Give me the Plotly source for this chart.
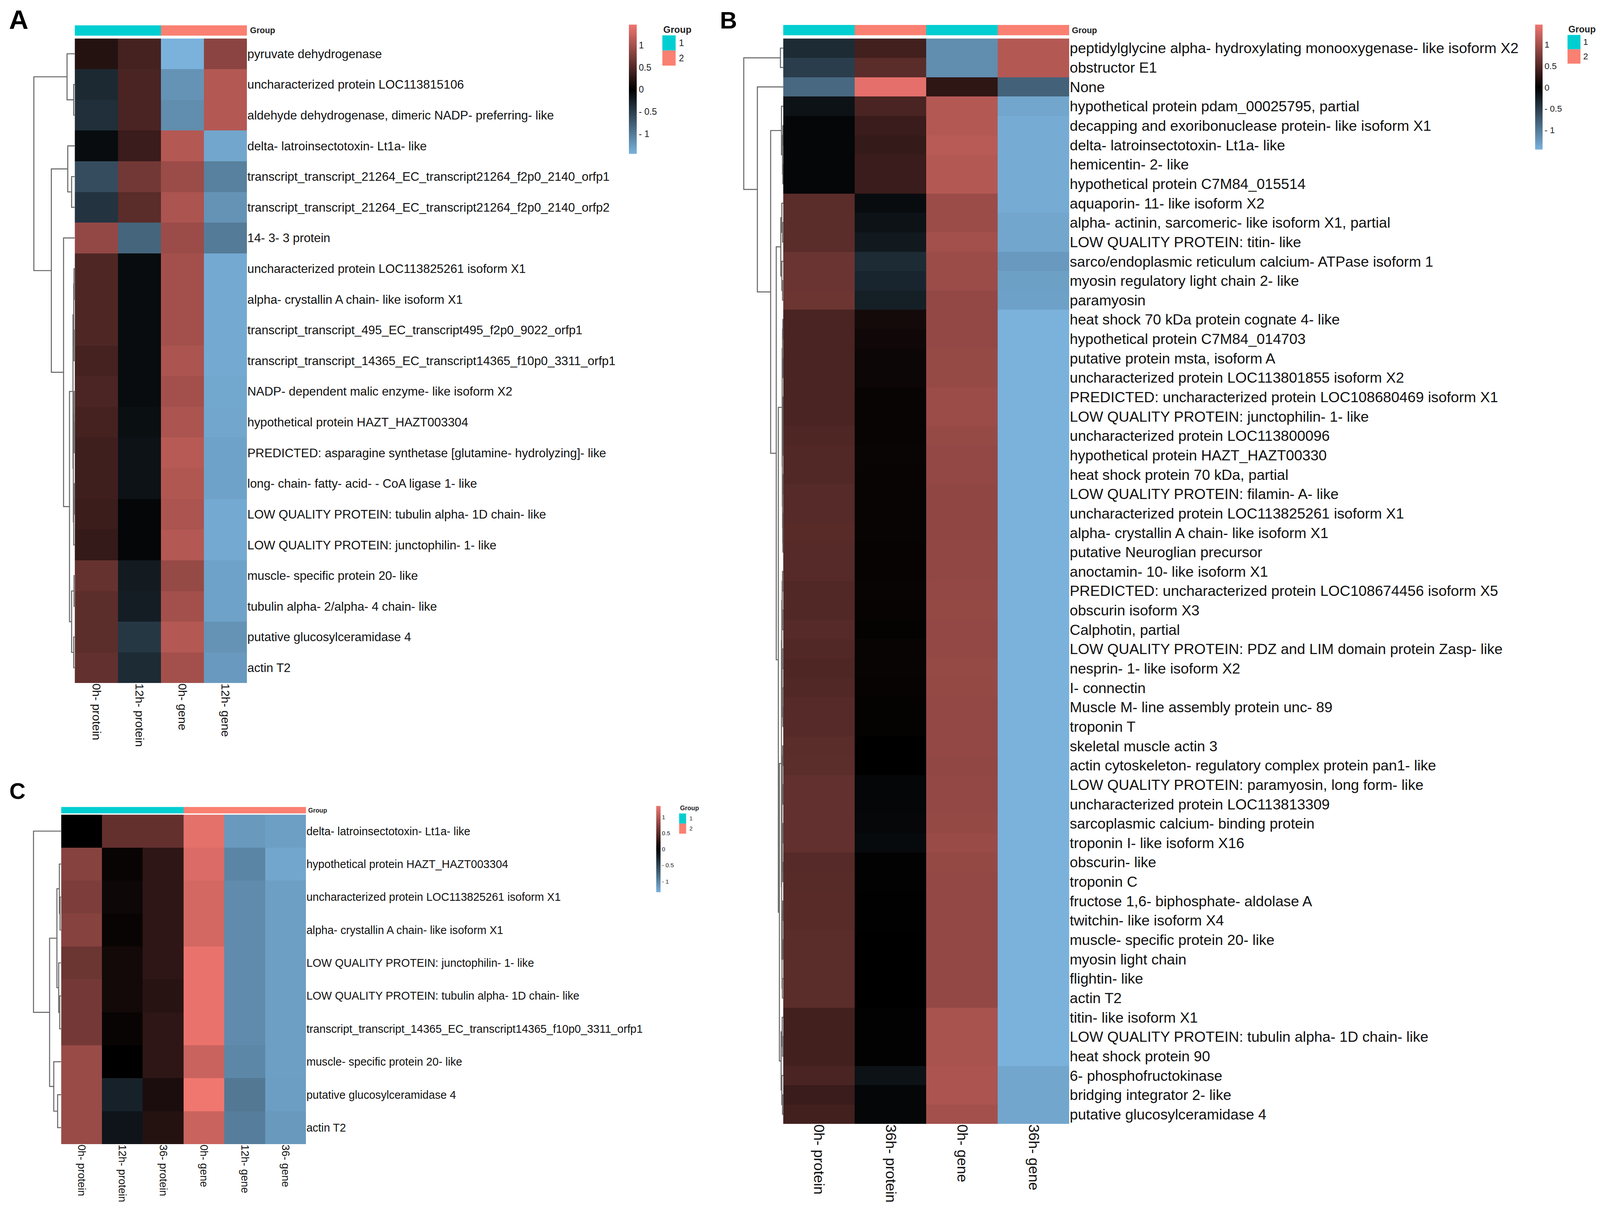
import plotly.graph_objects as go

# reference grid (pixel positions below are read on this grid)
REF_W, REF_H = 4562, 3127
# the visible capture area is narrower than the reference, so the figure is fitted to it
FIG_W, FIG_H = 4080, 3108
SX, SY = FIG_W / REF_W, FIG_H / REF_H

FONT = "Liberation Sans, Arial, Helvetica, sans-serif"
LOW, MID, HIGH = "rgb(122,178,220)", "rgb(0,0,0)", "rgb(240,118,112)"
GROUP_COLORS = ["#00CED1", "#FA8072"]
GROUP_NAMES = ["1", "2"]
LINE_COLOR = "#6a6a6a"
CB_TICKVALS = [-1, -0.5, 0, 0.5, 1]
CB_TICKTEXT = ["- 1", "- 0.5", "0", "0.5", "1"]

# ---------------- Panel A ----------------
A_rows = [
    "pyruvate dehydrogenase",
    "uncharacterized protein LOC113815106",
    "aldehyde dehydrogenase, dimeric NADP- preferring- like",
    "delta- latroinsectotoxin- Lt1a- like",
    "transcript_transcript_21264_EC_transcript21264_f2p0_2140_orfp1",
    "transcript_transcript_21264_EC_transcript21264_f2p0_2140_orfp2",
    "14- 3- 3 protein",
    "uncharacterized protein LOC113825261 isoform X1",
    "alpha- crystallin A chain- like isoform X1",
    "transcript_transcript_495_EC_transcript495_f2p0_9022_orfp1",
    "transcript_transcript_14365_EC_transcript14365_f10p0_3311_orfp1",
    "NADP- dependent malic enzyme- like isoform X2",
    "hypothetical protein HAZT_HAZT003304",
    "PREDICTED: asparagine synthetase [glutamine- hydrolyzing]- like",
    "long- chain- fatty- acid- - CoA ligase 1- like",
    "LOW QUALITY PROTEIN: tubulin alpha- 1D chain- like",
    "LOW QUALITY PROTEIN: junctophilin- 1- like",
    "muscle- specific protein 20- like",
    "tubulin alpha- 2/alpha- 4 chain- like",
    "putative glucosylceramidase 4",
    "actin T2",
]
A_cols = ["0h- protein", "12h- protein", "0h- gene", "12h- gene"]
A_groups = [1, 1, 2, 2]
A_values = [
    [0.22, 0.42, -1.45, 0.85],
    [-0.33, 0.45, -1.20, 1.10],
    [-0.38, 0.45, -1.15, 1.10],
    [-0.10, 0.35, 1.10, -1.35],
    [-0.62, 0.70, 0.95, -1.05],
    [-0.42, 0.55, 1.05, -1.20],
    [0.90, -0.82, 0.95, -1.00],
    [0.48, -0.10, 1.00, -1.38],
    [0.48, -0.10, 1.00, -1.38],
    [0.48, -0.10, 1.00, -1.38],
    [0.42, -0.10, 1.05, -1.38],
    [0.46, -0.10, 1.00, -1.36],
    [0.42, -0.12, 1.05, -1.35],
    [0.38, -0.15, 1.12, -1.32],
    [0.38, -0.15, 1.08, -1.32],
    [0.36, -0.05, 1.05, -1.38],
    [0.32, -0.05, 1.10, -1.38],
    [0.62, -0.22, 0.92, -1.32],
    [0.56, -0.24, 1.00, -1.32],
    [0.56, -0.45, 1.10, -1.20],
    [0.60, -0.35, 1.00, -1.25],
]
# dendrogram: [merge height, left, right]; leaves are row indices
A_tree = [117,
          [22, 0, [3, 1, 2]],
          [67,
           [20, 3, [9, 4, 5]],
           [32, 6,
            [15,
             [5, [3, [2, 7, 8], [2, 9, 10]],
                 [4, [2, 11, [1, 12, 13]], [3, [1, 14, 15], 16]]],
             [9, [2, 17, 18], [3, 19, 20]]]]]]

# ---------------- Panel B ----------------
B_rows = [
    "peptidylglycine alpha- hydroxylating monooxygenase- like isoform X2",
    "obstructor E1",
    "None",
    "hypothetical protein pdam_00025795, partial",
    "decapping and exoribonuclease protein- like isoform X1",
    "delta- latroinsectotoxin- Lt1a- like",
    "hemicentin- 2- like",
    "hypothetical protein C7M84_015514",
    "aquaporin- 11- like isoform X2",
    "alpha- actinin, sarcomeric- like isoform X1, partial",
    "LOW QUALITY PROTEIN: titin- like",
    "sarco/endoplasmic reticulum calcium- ATPase isoform 1",
    "myosin regulatory light chain 2- like",
    "paramyosin",
    "heat shock 70 kDa protein cognate 4- like",
    "hypothetical protein C7M84_014703",
    "putative protein msta, isoform A",
    "uncharacterized protein LOC113801855 isoform X2",
    "PREDICTED: uncharacterized protein LOC108680469 isoform X1",
    "LOW QUALITY PROTEIN: junctophilin- 1- like",
    "uncharacterized protein LOC113800096",
    "hypothetical protein HAZT_HAZT00330",
    "heat shock protein 70 kDa, partial",
    "LOW QUALITY PROTEIN: filamin- A- like",
    "uncharacterized protein LOC113825261 isoform X1",
    "alpha- crystallin A chain- like isoform X1",
    "putative Neuroglian precursor",
    "anoctamin- 10- like isoform X1",
    "PREDICTED: uncharacterized protein LOC108674456 isoform X5",
    "obscurin isoform X3",
    "Calphotin, partial",
    "LOW QUALITY PROTEIN: PDZ and LIM domain protein Zasp- like",
    "nesprin- 1- like isoform X2",
    "I- connectin",
    "Muscle M- line assembly protein unc- 89",
    "troponin T",
    "skeletal muscle actin 3",
    "actin cytoskeleton- regulatory complex protein pan1- like",
    "LOW QUALITY PROTEIN: paramyosin, long form- like",
    "uncharacterized protein LOC113813309",
    "sarcoplasmic calcium- binding protein",
    "troponin I- like isoform X16",
    "obscurin- like",
    "troponin C",
    "fructose 1,6- biphosphate- aldolase A",
    "twitchin- like isoform X4",
    "muscle- specific protein 20- like",
    "myosin light chain",
    "flightin- like",
    "actin T2",
    "titin- like isoform X1",
    "LOW QUALITY PROTEIN: tubulin alpha- 1D chain- like",
    "heat shock protein 90",
    "6- phosphofructokinase",
    "bridging integrator 2- like",
    "putative glucosylceramidase 4",
]
B_cols = ["0h- protein", "36h- protein", "0h- gene", "36h- gene"]
B_groups = [1, 2, 1, 2]
B_values = [
    [-0.35, 0.40, -1.15, 1.10],
    [-0.50, 0.55, -1.15, 1.10],
    [-0.85, 1.40, 0.28, -0.80],
    [-0.15, 0.45, 1.10, -1.35],
    [-0.05, 0.35, 1.10, -1.40],
    [-0.05, 0.32, 1.13, -1.40],
    [-0.05, 0.35, 1.10, -1.40],
    [-0.05, 0.35, 1.10, -1.40],
    [0.55, -0.10, 0.95, -1.40],
    [0.55, -0.15, 0.95, -1.35],
    [0.55, -0.20, 1.00, -1.35],
    [0.65, -0.35, 0.95, -1.25],
    [0.65, -0.30, 0.95, -1.30],
    [0.66, -0.25, 0.90, -1.31],
    [0.45, 0.12, 0.90, -1.47],
    [0.45, 0.10, 0.90, -1.45],
    [0.45, 0.08, 0.92, -1.45],
    [0.45, 0.08, 0.92, -1.45],
    [0.45, 0.05, 0.95, -1.45],
    [0.45, 0.05, 0.95, -1.45],
    [0.48, 0.05, 0.92, -1.45],
    [0.50, 0.06, 0.90, -1.46],
    [0.50, 0.05, 0.90, -1.45],
    [0.52, 0.05, 0.88, -1.45],
    [0.52, 0.05, 0.88, -1.45],
    [0.54, 0.05, 0.88, -1.47],
    [0.52, 0.04, 0.89, -1.45],
    [0.52, 0.04, 0.89, -1.45],
    [0.50, 0.05, 0.90, -1.45],
    [0.50, 0.04, 0.91, -1.45],
    [0.52, 0.03, 0.90, -1.45],
    [0.50, 0.05, 0.90, -1.45],
    [0.48, 0.05, 0.92, -1.45],
    [0.50, 0.04, 0.91, -1.45],
    [0.52, 0.03, 0.90, -1.45],
    [0.52, 0.03, 0.90, -1.45],
    [0.55, 0.00, 0.90, -1.45],
    [0.56, 0.00, 0.89, -1.45],
    [0.60, -0.05, 0.90, -1.45],
    [0.60, -0.05, 0.90, -1.45],
    [0.60, -0.06, 0.91, -1.45],
    [0.60, -0.08, 0.93, -1.45],
    [0.52, 0.02, 0.91, -1.45],
    [0.53, 0.02, 0.90, -1.45],
    [0.54, 0.01, 0.90, -1.45],
    [0.54, 0.01, 0.90, -1.45],
    [0.55, 0.00, 0.90, -1.45],
    [0.55, 0.00, 0.90, -1.45],
    [0.55, 0.00, 0.90, -1.45],
    [0.55, 0.00, 0.90, -1.45],
    [0.40, 0.02, 1.03, -1.45],
    [0.40, 0.02, 1.03, -1.45],
    [0.40, 0.02, 1.03, -1.45],
    [0.45, -0.15, 1.05, -1.35],
    [0.35, -0.05, 1.05, -1.35],
    [0.40, -0.05, 1.00, -1.35],
]
B_tree = [113,
          [8, 0, 1],
          [74, 2,
           [36,
            [5, 3, [2, [1, 4, 5], [1, 6, 7]]],
            [20,
             [7, [4, 8, [2, 9, 10]], [4, 11, [2, 12, 13]]],
             [14,
              [3, [2, [1, 14, 15], [1, 16, 17]],
                  [2.5, [1.5, [1, 18, 19], [1, 20, 21]],
                        [2, [1, 22, 23], [1.5, 24, [1, 25, 26]]]]],
              [11,
               [5, [4, [3, [2, 27, 28], [2, 29, 30]],
                       [3, [2, 31, 32], [2, 33, [1, 34, 35]]]],
                   [4.5, [3.5, [2.5, [1.5, 36, 37], [1.5, 38, 39]],
                               [2.5, [1.5, 40, 41], [1.5, 42, 43]]],
                         [3.5, [2.5, [1.5, 44, 45], [1.5, 46, 47]],
                               [2.5, 48, 49]]]],
               [6, [3, 50, [2, 51, 52]], [4, 53, [2, 54, 55]]]]]]]]]

# ---------------- Panel C ----------------
C_rows = [
    "delta- latroinsectotoxin- Lt1a- like",
    "hypothetical protein HAZT_HAZT003304",
    "uncharacterized protein LOC113825261 isoform X1",
    "alpha- crystallin A chain- like isoform X1",
    "LOW QUALITY PROTEIN: junctophilin- 1- like",
    "LOW QUALITY PROTEIN: tubulin alpha- 1D chain- like",
    "transcript_transcript_14365_EC_transcript14365_f10p0_3311_orfp1",
    "muscle- specific protein 20- like",
    "putative glucosylceramidase 4",
    "actin T2",
]
C_cols = ["0h- protein", "12h- protein", "36- protein", "0h- gene", "12h- gene", "36- gene"]
C_groups = [1, 1, 1, 2, 2, 2]
C_values = [
    [0.00, 0.55, 0.55, 1.28, -1.15, -1.20],
    [0.75, 0.05, 0.25, 1.22, -1.00, -1.25],
    [0.70, 0.08, 0.25, 1.18, -1.05, -1.20],
    [0.75, 0.05, 0.25, 1.18, -1.05, -1.20],
    [0.60, 0.10, 0.25, 1.30, -1.05, -1.20],
    [0.65, 0.10, 0.22, 1.30, -1.05, -1.20],
    [0.65, 0.05, 0.25, 1.30, -1.05, -1.20],
    [0.85, 0.00, 0.25, 1.12, -1.02, -1.20],
    [0.85, -0.25, 0.15, 1.34, -0.90, -1.19],
    [0.85, -0.15, 0.20, 1.12, -0.95, -1.15],
]
C_tree = [79, 0,
          [33,
           [12, [5, 1, [3, 2, 3]], [7, 4, [4, 5, 6]]],
           [21, 7, [10, 8, 9]]]]

# ---------------- layout (boxes on the reference grid) ----------------
panels = [
    dict(rows=A_rows, cols=A_cols, groups=A_groups, z=A_values, tree=A_tree,
         zmin=-1.45, zmax=1.47, hx=(205, 698), hy=(91, 1752), gy=(57, 84), dx0=60,
         rowfont=35, colfont=34, glabel=(704, 70, 24),
         cb=dict(x=1791, y=55, th=22, ln=333, font=26),
         leg=dict(x=1887, ty=52, tfont=27, sw=38, sy=83, sh=39, lx=1932, lfont=26),
         title=("A", 14, 2, 77)),
    dict(rows=B_rows, cols=B_cols, groups=B_groups, z=B_values, tree=B_tree,
         zmin=-1.45, zmax=1.47, hx=(2233, 3052), hy=(91, 2888), gy=(56, 83), dx0=2090,
         rowfont=42, colfont=42, glabel=(3057, 70, 24),
         cb=dict(x=4385, y=55, th=21, ln=322, font=25),
         leg=dict(x=4478, ty=52, tfont=26, sw=37, sy=82, sh=37, lx=4521, lfont=25),
         title=("B", 2050, 8, 68)),
    dict(rows=C_rows, cols=C_cols, groups=C_groups, z=C_values, tree=C_tree,
         zmin=-1.34, zmax=1.34, hx=(166, 867), hy=(2091, 2940), gy=(2071, 2088), dx0=60,
         rowfont=32, colfont=31, glabel=(871, 2080, 18),
         cb=dict(x=1869, y=2069, th=12, ln=222, font=17),
         leg=dict(x=1935, ty=2063, tfont=18, sw=20, sy=2088, sh=26, lx=1962, lfont=16),
         title=("C", 16, 1996, 64)),
]


def pxx(x):
    return x / REF_W


def pxy(y):
    return 1 - y / REF_H


def fs(size):
    return round(size * SX, 1)


def dendro_lines(tree):
    xs, ys = [], []

    def walk(node):
        if isinstance(node, int):
            return float(node), 0.0
        h, left, right = node
        yl, hl = walk(left)
        yr, hr = walk(right)
        xs.extend([hl, h, h, hr, None])
        ys.extend([yl, yl, yr, yr, None])
        return (yl + yr) / 2.0, h

    walk(tree)
    return xs, ys


fig = go.Figure()
layout_axes = {}
shapes = []
annotations = []
ax_n = 0


def ax_ids(n):
    return ("x" if n == 1 else f"x{n}"), ("y" if n == 1 else f"y{n}"), \
           ("xaxis" if n == 1 else f"xaxis{n}"), ("yaxis" if n == 1 else f"yaxis{n}")


hidden = dict(showgrid=False, zeroline=False, showticklabels=False, ticks="",
              showline=False, fixedrange=True)

for p in panels:
    n = len(p["rows"])
    m = len(p["cols"])
    hx0, hx1 = p["hx"]
    hy0, hy1 = p["hy"]
    gy0, gy1 = p["gy"]
    xdom = [pxx(hx0), pxx(hx1)]
    ydom = [pxy(hy1), pxy(hy0)]

    # ---- main heatmap ----
    ax_n += 1
    xid, yid, xk, yk = ax_ids(ax_n)
    mid = (0 - p["zmin"]) / (p["zmax"] - p["zmin"])
    cb = p["cb"]
    fig.add_trace(go.Heatmap(
        z=p["z"], x=list(range(m)), y=list(range(n)), xaxis=xid, yaxis=yid,
        zmin=p["zmin"], zmax=p["zmax"],
        colorscale=[[0, LOW], [mid, MID], [1, HIGH]],
        showscale=True, hoverinfo="skip",
        colorbar=dict(x=pxx(cb["x"]), xanchor="left", y=pxy(cb["y"]), yanchor="top",
                      len=cb["ln"] * SY, lenmode="pixels", thickness=cb["th"] * SX,
                      thicknessmode="pixels", outlinewidth=0, xpad=0, ypad=0,
                      tickvals=CB_TICKVALS, ticktext=CB_TICKTEXT, ticks="",
                      tickfont=dict(size=fs(cb["font"]), color="#222", family=FONT)),
    ))
    layout_axes[xk] = dict(domain=xdom, range=[-0.5, m - 0.5], anchor=yid,
                           tickvals=list(range(m)), ticktext=p["cols"], tickangle=90,
                           side="bottom", showgrid=False, zeroline=False, ticks="",
                           showline=False, fixedrange=True, automargin=False,
                           tickfont=dict(size=fs(p["colfont"]), color="#111", family=FONT))
    layout_axes[yk] = dict(domain=ydom, range=[n - 0.5, -0.5], anchor=xid,
                           tickvals=list(range(n)), ticktext=p["rows"], side="right",
                           showgrid=False, zeroline=False, ticks="", showline=False,
                           fixedrange=True, automargin=False,
                           tickfont=dict(size=fs(p["rowfont"]), color="#111", family=FONT))

    # ---- group annotation bar ----
    ax_n += 1
    xid, yid, xk, yk = ax_ids(ax_n)
    fig.add_trace(go.Heatmap(
        z=[p["groups"]], x=list(range(m)), y=[0], xaxis=xid, yaxis=yid,
        zmin=1, zmax=2, showscale=False, hoverinfo="skip",
        colorscale=[[0, GROUP_COLORS[0]], [0.5, GROUP_COLORS[0]],
                    [0.5, GROUP_COLORS[1]], [1, GROUP_COLORS[1]]],
    ))
    layout_axes[xk] = dict(domain=xdom, range=[-0.5, m - 0.5], anchor=yid, **hidden)
    layout_axes[yk] = dict(domain=[pxy(gy1), pxy(gy0)], range=[-0.5, 0.5], anchor=xid, **hidden)
    gx, gyc, gf = p["glabel"]
    annotations.append(dict(text="<b>Group</b>", x=pxx(gx), y=pxy(gyc), xref="paper",
                            yref="paper", xanchor="left", yanchor="middle", showarrow=False,
                            font=dict(size=fs(gf), color="#222", family=FONT)))

    # ---- row dendrogram ----
    ax_n += 1
    xid, yid, xk, yk = ax_ids(ax_n)
    dxs, dys = dendro_lines(p["tree"])
    fig.add_trace(go.Scatter(x=dxs, y=dys, xaxis=xid, yaxis=yid, mode="lines",
                             line=dict(color=LINE_COLOR, width=3 * SX), hoverinfo="skip",
                             showlegend=False))
    layout_axes[xk] = dict(domain=[pxx(p["dx0"]), pxx(hx0)], range=[hx0 - p["dx0"], 0],
                           anchor=yid, **hidden)
    layout_axes[yk] = dict(domain=ydom, range=[n - 0.5, -0.5], anchor=xid, **hidden)

    # ---- group legend ----
    lg = p["leg"]
    annotations.append(dict(text="<b>Group</b>", x=pxx(lg["x"]), y=pxy(lg["ty"]),
                            xref="paper", yref="paper", xanchor="left", yanchor="top",
                            showarrow=False,
                            font=dict(size=fs(lg["tfont"]), color="#222", family=FONT)))
    for gi, (gcol, gname) in enumerate(zip(GROUP_COLORS, GROUP_NAMES)):
        y0 = lg["sy"] + gi * lg["sh"]
        shapes.append(dict(type="rect", xref="paper", yref="paper",
                           x0=pxx(lg["x"]), x1=pxx(lg["x"] + lg["sw"]),
                           y0=pxy(y0 + lg["sh"]), y1=pxy(y0),
                           fillcolor=gcol, line=dict(width=0)))
        annotations.append(dict(text=gname, x=pxx(lg["lx"]), y=pxy(y0 + lg["sh"] / 2),
                                xref="paper", yref="paper", xanchor="left",
                                yanchor="middle", showarrow=False,
                                font=dict(size=fs(lg["lfont"]), color="#222", family=FONT)))

    # ---- panel letter ----
    t, tx, ty, tf = p["title"]
    annotations.append(dict(text=f"<b>{t}</b>", x=pxx(tx), y=pxy(ty), xref="paper",
                            yref="paper", xanchor="left", yanchor="top", showarrow=False,
                            font=dict(size=fs(tf), color="#000", family=FONT)))

fig.update_layout(
    width=FIG_W, height=FIG_H, margin=dict(l=0, r=0, t=0, b=0),
    paper_bgcolor="white", plot_bgcolor="white", showlegend=False,
    font=dict(family=FONT, color="#111"),
    shapes=shapes, annotations=annotations, **layout_axes,
)

fig.write_html("out.html")
